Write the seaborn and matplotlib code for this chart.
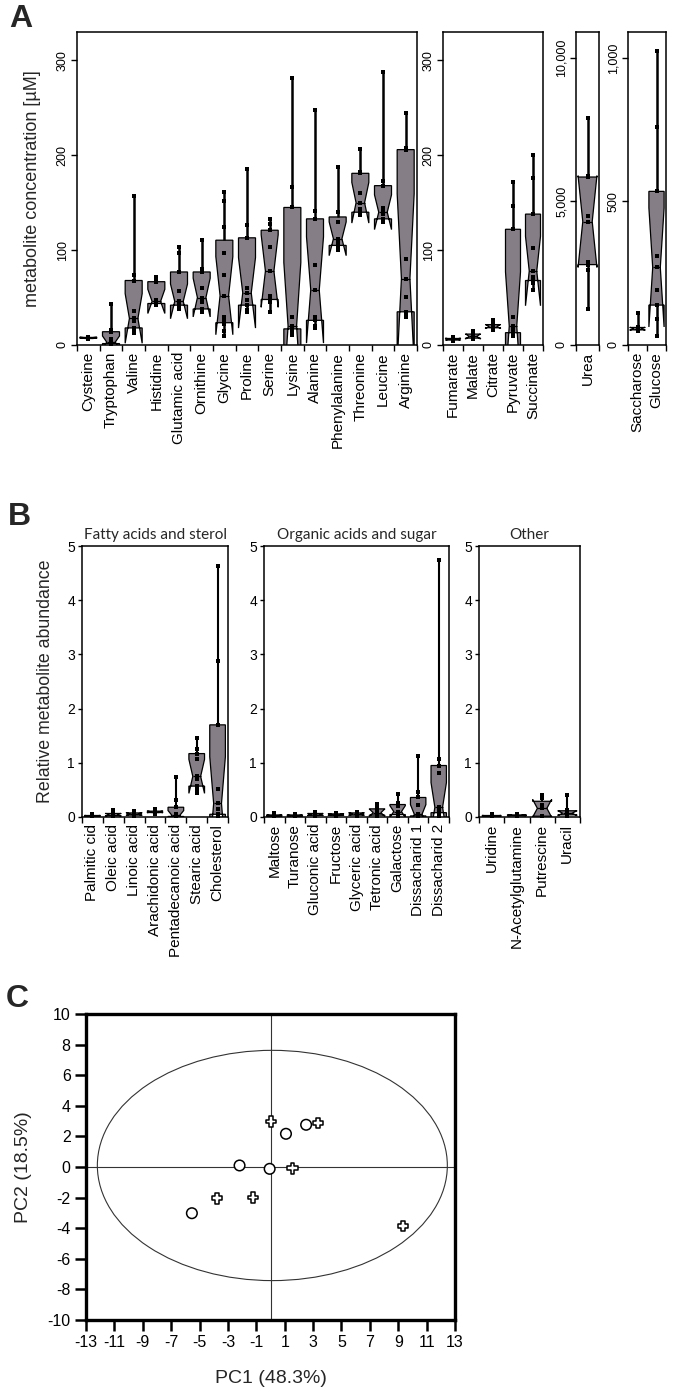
import numpy as np
import pandas as pd
import matplotlib
matplotlib.use("Agg")
import matplotlib.pyplot as plt
import seaborn as sns
from matplotlib.patches import Ellipse
from matplotlib.ticker import FuncFormatter

# ---------------- DATA ----------------
amino_acids = ["Cysteine", "Tryptophan", "Valine", "Histidine", "Glutamic acid", "Ornithine",
               "Glycine", "Proline", "Serine", "Lysine", "Alanine", "Phenylalanine",
               "Threonine", "Leucine", "Arginine"]
amino_conc = [
    [6.5, 7, 7.5, 8, 8, 8.5],
    [0.5, 1, 1.5, 2, 3, 6, 14, 16, 43],
    [13, 15, 18, 25, 28, 36, 68, 74, 157],
    [42, 43, 44, 45, 47, 66, 69, 72],
    [38, 40, 42, 44, 46, 57, 77, 97, 103],
    [35, 36, 38, 45, 50, 60, 77, 80, 111],
    [10, 15, 22, 25, 30, 52, 74, 97, 124, 152, 161],
    [35, 37, 42, 47, 55, 60, 113, 127, 186],
    [35, 45, 48, 52, 78, 103, 121, 128, 133],
    [11, 13, 17, 19, 20, 30, 145, 167, 281],
    [18, 20, 26, 30, 58, 84, 133, 141, 248],
    [100, 102, 108, 112, 130, 140, 188],
    [137, 139, 140, 143, 150, 160, 181, 182, 207],
    [130, 131, 133, 138, 140, 144, 168, 173, 288],
    [29, 33, 35, 51, 70, 91, 206, 208, 245],
]
organic_acids = ["Fumarate", "Malate", "Citrate", "Pyruvate", "Succinate"]
organic_conc = [
    [4, 5, 6, 6.5, 7, 8],
    [6, 7, 8, 10, 12, 15],
    [16, 18, 19, 20, 22, 26],
    [9, 12, 13, 16, 20, 30, 122, 147, 172],
    [58, 65, 68, 72, 78, 102, 138, 176, 200],
]
urea_names = ["Urea"]
urea_conc = [[1250, 2600, 2800, 2900, 4300, 4500, 5850, 5900, 7900]]
sugar_names = ["Saccharose", "Glucose"]
sugar_conc = [
    [50, 52, 55, 58, 62, 110],
    [33, 89, 139, 193, 270, 311, 535, 760, 1024],
]

fatty_names = ["Palmitic cid", "Oleic acid", "Linoic acid", "Arachidonic acid",
               "Pentadecanoic acid", "Stearic acid", "Cholesterol"]
fatty_abund = [
    [0.01, 0.01, 0.02, 0.02, 0.03, 0.06],
    [0.01, 0.02, 0.03, 0.05, 0.07, 0.13],
    [0.02, 0.03, 0.05, 0.06, 0.08, 0.11],
    [0.06, 0.08, 0.09, 0.10, 0.11, 0.15],
    [0.0, 0.005, 0.01, 0.02, 0.03, 0.05, 0.18, 0.31, 0.73],
    [0.45, 0.5, 0.57, 0.7, 0.75, 1.07, 1.17, 1.25, 1.45],
    [0.01, 0.03, 0.05, 0.15, 0.25, 0.52, 1.7, 2.88, 4.63],
]
orgsugar_names = ["Maltose", "Turanose", "Gluconic acid", "Fructose", "Glyceric acid",
                  "Tetronic acid", "Galactose", "Dissacharid 1", "Dissacharid 2"]
orgsugar_abund = [
    [0.01, 0.02, 0.02, 0.03, 0.04, 0.07],
    [0.01, 0.02, 0.02, 0.03, 0.04, 0.06],
    [0.01, 0.03, 0.04, 0.05, 0.07, 0.09],
    [0.02, 0.03, 0.04, 0.05, 0.06, 0.08],
    [0.02, 0.03, 0.05, 0.06, 0.08, 0.10],
    [0.0, 0.02, 0.05, 0.08, 0.14, 0.16, 0.24],
    [0.0, 0.03, 0.06, 0.10, 0.20, 0.26, 0.42],
    [0.0, 0.01, 0.02, 0.03, 0.05, 0.23, 0.36, 0.47, 1.13],
    [0.0, 0.02, 0.08, 0.12, 0.18, 0.82, 0.95, 1.07, 4.74],
]
other_names = ["Uridine", "N-Acetylglutamine", "Putrescine", "Uracil"]
other_abund = [
    [0.01, 0.01, 0.02, 0.02, 0.03, 0.05],
    [0.01, 0.02, 0.03, 0.03, 0.04, 0.05],
    [0.0, 0.01, 0.02, 0.16, 0.23, 0.35, 0.40],
    [0.01, 0.03, 0.05, 0.07, 0.10, 0.13, 0.41],
]
group_titles = ["Fatty acids and sterol", "Organic acids and sugar", "Other"]

pc1 = [-5.54, -2.18, -0.06, 1.09, 2.51, 0.04, 3.35, 1.54, -3.78, -1.24, 9.33]
pc2 = [-3.02, 0.10, -0.12, 2.17, 2.76, 2.98, 2.87, -0.08, -2.04, -2.00, -3.85]
pc_group = ["Group 1"] * 5 + ["Group 2"] * 6
ellipse_center = (0.13, 0.10)
ellipse_width = 24.66
ellipse_height = 15.05

# ---------------- STYLE ----------------
sns.set_style("ticks")
plt.rcParams["font.family"] = ["Liberation Sans", "DejaVu Sans"]
plt.rcParams["axes.unicode_minus"] = False
plt.rcParams["axes.linewidth"] = 1.0
plt.rcParams["axes.edgecolor"] = "black"
plt.rcParams["xtick.color"] = "black"
plt.rcParams["ytick.color"] = "black"

BOX = "#857e86"
W, H = 674, 1392
fig = plt.figure(figsize=(W / 100, H / 100), dpi=100)


def px_axes(l, t, r, b):
    return fig.add_axes([l / W, 1 - b / H, (r - l) / W, (b - t) / H])


def box_panel(ax, cats, vals, width=0.75, wlw=1.8, psize=3.2):
    df = pd.DataFrame({
        "metabolite": np.repeat(cats, [len(v) for v in vals]),
        "value": np.concatenate([np.asarray(v, float) for v in vals]),
    })
    sns.boxplot(data=df, x="metabolite", y="value", order=cats, color=BOX, saturation=1,
                width=width, whis=(0, 100), notch=True, showcaps=False, showfliers=False,
                linecolor="black", linewidth=0.9,
                whiskerprops=dict(linewidth=wlw), medianprops=dict(linewidth=0.9), ax=ax)
    sns.stripplot(data=df, x="metabolite", y="value", order=cats, jitter=False, marker="s",
                  color="black", size=psize, linewidth=0, ax=ax)
    n = len(cats)
    ax.set_xlim(-0.5, n - 0.5)
    ax.set_xlabel("")
    ax.set_ylabel("")
    ax.set_xticks(range(n))
    ax.set_xticks(np.arange(-0.5, n, 1.0), minor=True)
    ax.tick_params(axis="x", which="major", length=0, pad=5)
    ax.tick_params(axis="x", which="minor", length=4, width=1.0, direction="out")
    for s in ax.spines.values():
        s.set_visible(True)
        s.set_linewidth(1.1)


comma = FuncFormatter(lambda v, p: f"{int(round(v)):,}")

# ---------------- PANEL A ----------------
specs_A = [
    (77, 417, amino_acids, amino_conc, 330, [0, 100, 200, 300], 0.75),
    (443, 543, organic_acids, organic_conc, 330, [0, 100, 200, 300], 0.75),
    (576, 599, urea_names, urea_conc, 10900, [0, 5000, 10000], 0.82),
    (628, 666, sugar_names, sugar_conc, 1090, [0, 500, 1000], 0.8),
]
axA = []
for l, r, cats, vals, ymax, yt, wd in specs_A:
    ax = px_axes(l, 32, r, 345)
    box_panel(ax, cats, vals, width=wd, wlw=1.8, psize=3.2)
    ax.set_ylim(0, ymax)
    ax.set_yticks(yt)
    ax.yaxis.set_major_formatter(comma)
    ax.set_xticklabels(cats, rotation=90, fontsize=11)
    ax.tick_params(axis="y", length=4, width=1.0, labelsize=9, labelrotation=90, pad=2)
    for t in ax.get_yticklabels():
        t.set_va("center")
    axA.append(ax)
axA[0].set_ylabel("metabolite concentration [µM]", fontsize=13)
axA[0].yaxis.set_label_coords(-0.106, 0.5)

# ---------------- PANEL B ----------------
specs_B = [
    (82, 228, fatty_names, fatty_abund, group_titles[0]),
    (264, 449, orgsugar_names, orgsugar_abund, group_titles[1]),
    (479, 580, other_names, other_abund, group_titles[2]),
]
axB = []
for l, r, cats, vals, title in specs_B:
    ax = px_axes(l, 546, r, 817)
    box_panel(ax, cats, vals, width=0.75, wlw=1.5, psize=3.0)
    ax.set_ylim(0, 5)
    ax.set_yticks([0, 1, 2, 3, 4, 5])
    ax.set_xticklabels(cats, rotation=90, fontsize=11)
    ax.tick_params(axis="y", length=3, width=1.0, labelsize=10, pad=2)
    ax.set_title(title, fontsize=11, family=["Lato", "DejaVu Sans"], pad=5)
    axB.append(ax)
axB[0].set_ylabel("Relative metabolite abundance", fontsize=12.8)
axB[0].yaxis.set_label_coords(-0.19, 0.5)

# ---------------- PANEL C ----------------
axC = px_axes(86, 1014, 455, 1320)
pca = pd.DataFrame({"PC1": pc1, "PC2": pc2, "group": pc_group})
axC.axhline(0, color="#333333", lw=0.8, zorder=1)
axC.axvline(0, color="#333333", lw=0.8, zorder=1)
axC.add_patch(Ellipse(ellipse_center, ellipse_width, ellipse_height, fill=False,
                      edgecolor="#333333", lw=0.8, zorder=1))
sns.scatterplot(data=pca, x="PC1", y="PC2", style="group",
                markers={"Group 1": "o", "Group 2": "P"}, s=58, facecolor="white",
                edgecolor="black", linewidth=1.1, legend=False, zorder=3, ax=axC)
axC.set_xlim(-13, 13)
axC.set_ylim(-10, 10)
axC.set_xticks(range(-13, 14, 2))
axC.set_yticks(range(-10, 11, 2))
axC.tick_params(axis="both", length=8, width=1.8, direction="out", labelsize=11.5, pad=3)
for s in axC.spines.values():
    s.set_linewidth(2.4)
axC.set_xlabel("PC1 (48.3%)", fontsize=14)
axC.set_ylabel("PC2 (18.5%)", fontsize=14)
axC.xaxis.set_label_coords(0.5, -0.165)
axC.yaxis.set_label_coords(-0.146, 0.5)

# panel letters
for letter, x, y in [("A", 9, 4), ("B", 8, 502), ("C", 6, 984)]:
    fig.text(x / W, 1 - y / H, letter, fontsize=23, fontweight="bold", ha="left", va="top")

fig.savefig("out.png", dpi=100)
